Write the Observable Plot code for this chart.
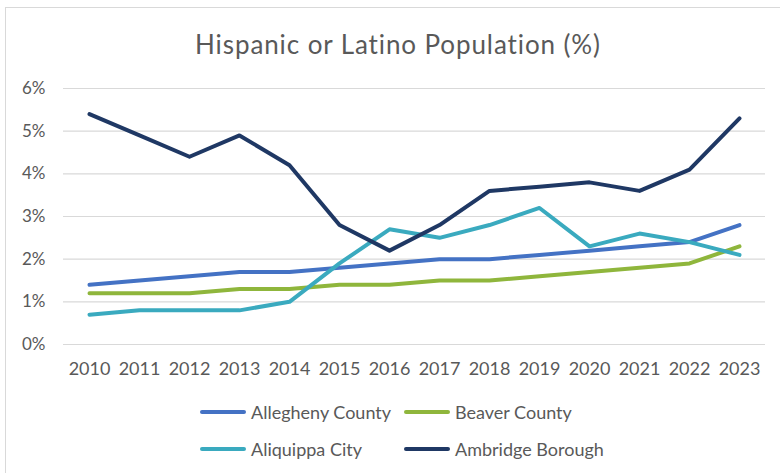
<!DOCTYPE html>
<html>
<head>
<meta charset="utf-8">
<script src="https://cdn.jsdelivr.net/npm/d3@7"></script>
<script src="https://cdn.jsdelivr.net/npm/@observablehq/plot@0.6"></script>
<style>
  html, body { margin: 0; padding: 0; background: #fff; }
  #fig { position: relative; width: 780px; height: 473px; overflow: hidden; font-family: Lato, "Open Sans", sans-serif; color: #595959; }
  #frame { position: absolute; left: 5px; top: 7px; width: 790px; height: 480px; border: 1px solid #d9d9d9; box-sizing: border-box; }
  #title { position: absolute; left: 0; width: 796px; top: 29px; text-align: center; font-size: 26px; line-height: 30px; letter-spacing: 0.9px; color: #595959; }
  #chart { position: absolute; left: 0; top: 70px; }
  .leg { position: absolute; display: flex; align-items: center; font-size: 18px; line-height: 20px; color: #595959; white-space: nowrap; }
  .sw { width: 46px; height: 4px; border-radius: 2px; margin-right: 5px; }
</style>
</head>
<body>
<div id="fig">
  <div id="frame"></div>
  <div id="title">Hispanic or Latino Population (%)</div>
  <div id="chart"></div>
  <div id="legend"></div>
</div>
<script>
const years = ["2010","2011","2012","2013","2014","2015","2016","2017","2018","2019","2020","2021","2022","2023"];
const seriesNames = ["Allegheny County", "Beaver County", "Aliquippa City", "Ambridge Borough"];
const seriesColors = ["#4472c4", "#8fb63c", "#3aaabf", "#1f3864"];
const alleghenyCounty = [1.4, 1.5, 1.6, 1.7, 1.7, 1.8, 1.9, 2.0, 2.0, 2.1, 2.2, 2.3, 2.4, 2.8];
const beaverCounty    = [1.2, 1.2, 1.2, 1.3, 1.3, 1.4, 1.4, 1.5, 1.5, 1.6, 1.7, 1.8, 1.9, 2.3];
const aliquippaCity   = [0.7, 0.8, 0.8, 0.8, 1.0, 1.9, 2.7, 2.5, 2.8, 3.2, 2.3, 2.6, 2.4, 2.1];
const ambridgeBorough = [5.4, 4.9, 4.4, 4.9, 4.2, 2.8, 2.2, 2.8, 3.6, 3.7, 3.8, 3.6, 4.1, 5.3];
const yTicks = [0, 1, 2, 3, 4, 5, 6];

const seriesValues = [alleghenyCounty, beaverCounty, aliquippaCity, ambridgeBorough];
const data = [];
seriesNames.forEach((name, i) => {
  years.forEach((yr, j) => data.push({series: name, year: yr, value: seriesValues[i][j]}));
});

const plot = Plot.plot({
  width: 780,
  height: 320,
  marginTop: 18,
  marginBottom: 46,
  marginLeft: 63,
  marginRight: 15,
  style: {fontFamily: "Lato, 'Open Sans', sans-serif", fontSize: "18px", color: "#595959", background: "transparent"},
  x: {type: "point", domain: years, padding: 0.5},
  y: {domain: [0, 6]},
  color: {domain: seriesNames, range: seriesColors},
  marks: [
    Plot.gridY(yTicks, {stroke: "#d9d9d9", strokeOpacity: 1, strokeWidth: 1.2}),
    Plot.axisY({ticks: yTicks, tickSize: 0, tickPadding: 18, tickFormat: d => d + "%", label: null, fill: "#595959", fontSize: 17}),
    Plot.axisX({tickSize: 0, tickPadding: 18, label: null, fill: "#595959"}),
    Plot.line(data, {x: "year", y: "value", z: "series", stroke: "series", strokeWidth: 4, strokeLinejoin: "round", strokeLinecap: "round"})
  ]
});
document.getElementById("chart").appendChild(plot);

// legend
const legend = document.getElementById("legend");
const legPos = [[200, 402], [404, 402], [200, 439], [404, 439]];
seriesNames.forEach((name, i) => {
  const item = document.createElement("div");
  item.className = "leg";
  item.style.left = legPos[i][0] + "px";
  item.style.top = legPos[i][1] + "px";
  const sw = document.createElement("div");
  sw.className = "sw";
  sw.style.background = seriesColors[i];
  const t = document.createElement("span");
  t.textContent = name;
  item.appendChild(sw);
  item.appendChild(t);
  legend.appendChild(item);
});
</script>
</body>
</html>
